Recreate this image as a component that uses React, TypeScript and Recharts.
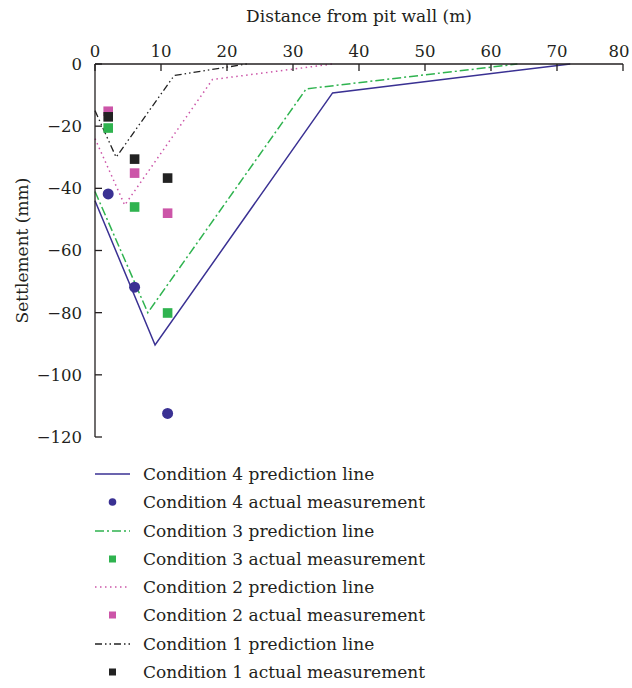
import { ComposedChart, Line, Scatter, XAxis, YAxis } from "recharts";

const xTicks = [0, 10, 20, 30, 40, 50, 60, 70, 80];
const xMinorTicks = [0, 5, 10, 15, 20, 25, 30, 35, 40, 45, 50, 55, 60, 65, 70, 75, 80];
const yTicks = [-120, -100, -80, -60, -40, -20, 0];
const yMinorTicks = [-120, -110, -100, -90, -80, -70, -60, -50, -40, -30, -20, -10, 0];

// prediction lines (distance m, settlement mm)
const c4LineX = [0, 9.1, 36, 72];
const c4LineY = [-44, -90.4, -9.3, 0];
const c3LineX = [0, 8, 32, 64];
const c3LineY = [-41, -80, -8, 0];
const c2LineX = [0, 4.5, 17.8, 36];
const c2LineY = [-24, -45.4, -5, 0];
const c1LineX = [0, 3.2, 12, 23];
const c1LineY = [-15, -30, -3.7, 0];

// measured points
const measureX = [2, 6, 11];
const c4Measured = [-41.8, -71.8, -112.4];
const c3Measured = [-20.6, -46, -80.1];
const c2Measured = [-15.2, -35.1, -48];
const c1Measured = [-17, -30.6, -36.7];

const FONT = '"DejaVu Serif", serif';
const INK = "#231f20";

const zip = (xs: number[], ys: number[]) => xs.map((x, i) => ({ x, y: ys[i] }));

type Series = {
  name: string;
  kind: "line" | "circle" | "square";
  color: string;
  dash?: string;
  width?: number;
  data: { x: number; y: number }[];
};

const series: Series[] = [
  { name: "Condition 4 prediction line", kind: "line", color: "#3a3193", width: 1.5, data: zip(c4LineX, c4LineY) },
  { name: "Condition 4 actual measurement", kind: "circle", color: "#3a3193", data: zip(measureX, c4Measured) },
  { name: "Condition 3 prediction line", kind: "line", color: "#2fb34f", dash: "9 3 2 3", width: 1.5, data: zip(c3LineX, c3LineY) },
  { name: "Condition 3 actual measurement", kind: "square", color: "#2fb34f", data: zip(measureX, c3Measured) },
  { name: "Condition 2 prediction line", kind: "line", color: "#cc55a8", dash: "1.5 3.5", width: 1.5, data: zip(c2LineX, c2LineY) },
  { name: "Condition 2 actual measurement", kind: "square", color: "#cc55a8", data: zip(measureX, c2Measured) },
  { name: "Condition 1 prediction line", kind: "line", color: "#222222", dash: "7 3 1.5 3 1.5 3", width: 1.3, data: zip(c1LineX, c1LineY) },
  { name: "Condition 1 actual measurement", kind: "square", color: "#222222", data: zip(measureX, c1Measured) },
];

const fmt = (v: number) => String(v).replace("-", "\u2212");

function marker(kind: string, color: string) {
  return (p: any) =>
    kind === "circle" ? (
      <circle cx={p.cx} cy={p.cy} r={5.5} fill={color} />
    ) : (
      <rect x={p.cx - 4.8} y={p.cy - 4.8} width={9.6} height={9.6} fill={color} />
    );
}

// top axis labels; the last one is nudged left so it stays inside the frame
function TopTick(p: any) {
  const v = p.payload.value;
  return (
    <text x={v === 80 ? p.x - 4 : p.x} y={p.y + 2} textAnchor="middle" fill={INK} fontSize={16.5} fontFamily={FONT}>
      {v}
    </text>
  );
}

function LegendIcon({ s }: { s: Series }) {
  return (
    <svg width={48} height={20} style={{ display: "block" }}>
      {s.kind === "line" ? (
        <line x1={0} x2={35} y1={10} y2={10} stroke={s.color} strokeWidth={1.5} strokeDasharray={s.dash} />
      ) : s.kind === "circle" ? (
        <circle cx={17.5} cy={10} r={3.8} fill={s.color} />
      ) : (
        <rect x={14} y={6.5} width={7} height={7} fill={s.color} />
      )}
    </svg>
  );
}

export default function App() {
  return (
    <div style={{ position: "absolute", left: 0, top: 0, width: 632, height: 688, background: "#fff", fontFamily: FONT }}>
      <ComposedChart width={632} height={450} margin={{ top: 0, right: 9, bottom: 13, left: 0 }}>
        <XAxis
          dataKey="x"
          type="number"
          orientation="top"
          domain={[0, 80]}
          ticks={xTicks}
          height={64}
          tickSize={-7}
          tickMargin={16}
          stroke={INK}
          strokeWidth={1.3}
          tick={TopTick}
          label={{ value: "Distance from pit wall (m)", position: "insideTop", offset: 10, fill: INK, fontSize: 17, fontFamily: FONT }}
        />
        <XAxis
          xAxisId="minor"
          type="number"
          orientation="top"
          mirror
          domain={[0, 80]}
          ticks={xMinorTicks}
          height={0}
          tickSize={4}
          tick={false}
          axisLine={false}
          stroke={INK}
          strokeWidth={1.3}
        />
        <XAxis
          xAxisId="bottom"
          type="number"
          orientation="bottom"
          domain={[0, 80]}
          height={0}
          tick={false}
          tickLine={false}
          stroke={INK}
          strokeWidth={1.3}
        />
        <YAxis
          dataKey="y"
          type="number"
          domain={[-120, 0]}
          ticks={yTicks}
          width={95}
          tickSize={-7}
          tickMargin={20}
          tickFormatter={fmt}
          stroke={INK}
          strokeWidth={1.3}
          tick={{ fill: INK, fontSize: 16.5, fontFamily: FONT }}
          label={{
            value: "Settlement (mm)",
            angle: -90,
            position: "insideLeft",
            offset: 22,
            fill: INK,
            fontSize: 17,
            fontFamily: FONT,
            style: { textAnchor: "middle" },
          }}
        />
        <YAxis
          yAxisId="minor"
          type="number"
          mirror
          domain={[-120, 0]}
          ticks={yMinorTicks}
          width={0}
          tickSize={4}
          tick={false}
          axisLine={false}
          stroke={INK}
          strokeWidth={1.3}
        />
        <YAxis
          yAxisId="right"
          type="number"
          orientation="right"
          domain={[-120, 0]}
          width={0}
          tick={false}
          tickLine={false}
          stroke={INK}
          strokeWidth={1.3}
        />
        {series.map((s) =>
          s.kind === "line" ? (
            <Line
              key={s.name}
              data={s.data}
              dataKey="y"
              type="linear"
              stroke={s.color}
              strokeWidth={s.width}
              strokeDasharray={s.dash}
              dot={false}
              activeDot={false}
              isAnimationActive={false}
            />
          ) : (
            <Scatter
              key={s.name}
              data={s.data}
              dataKey="y"
              fill={s.color}
              shape={marker(s.kind, s.color)}
              isAnimationActive={false}
            />
          )
        )}
      </ComposedChart>
      <div style={{ position: "absolute", left: 95, top: 460 }}>
        {series.map((s) => (
          <div key={s.name} style={{ display: "flex", alignItems: "center", height: 28.25 }}>
            <LegendIcon s={s} />
            <span style={{ fontSize: 17, color: INK, lineHeight: "28px", whiteSpace: "nowrap" }}>{s.name}</span>
          </div>
        ))}
      </div>
    </div>
  );
}
